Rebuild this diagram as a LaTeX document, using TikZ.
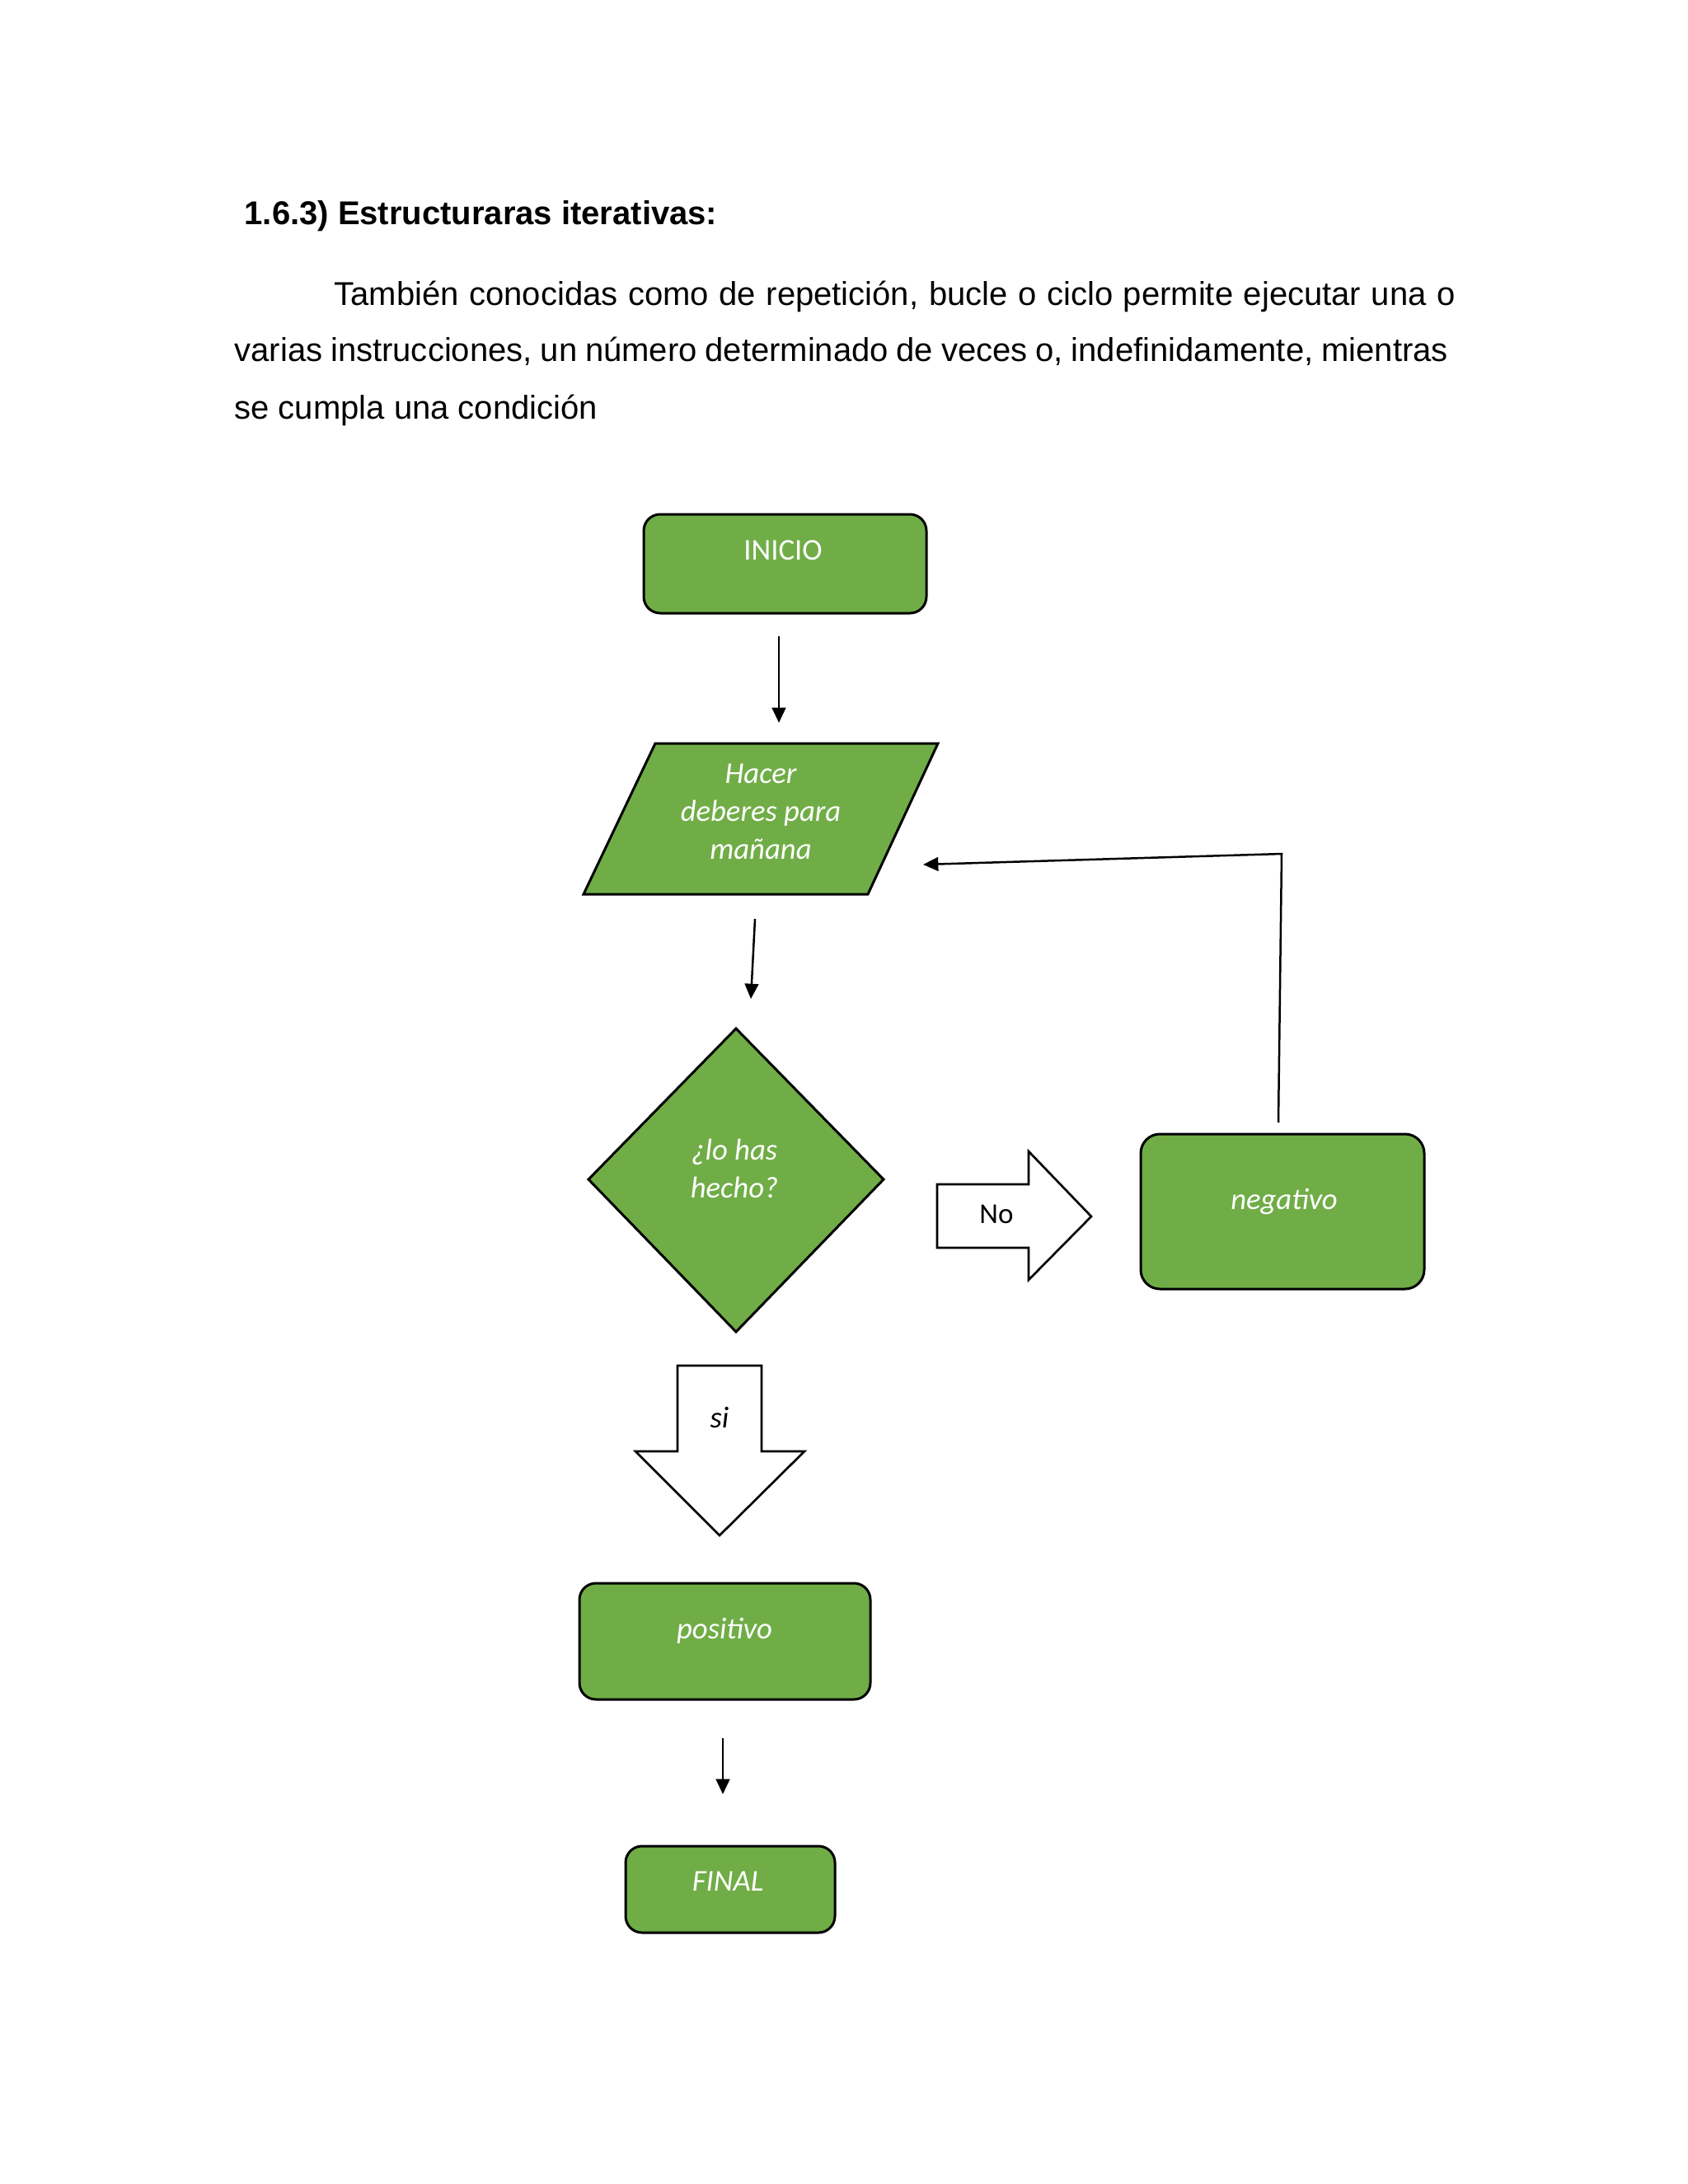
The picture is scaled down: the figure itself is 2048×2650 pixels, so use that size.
\documentclass[tikz,border=0pt]{standalone}
\usepackage{fontspec}
\setmainfont{Liberation Sans}
\newfontfamily\calibri{Carlito}
\usetikzlibrary{arrows.meta,fit}
\definecolor{fgreen}{HTML}{70AD47}
\begin{document}
\begin{tikzpicture}[x=0.010542cm,y=-0.010542cm,
  greenbox/.style={draw=black, fill=fgreen, line width=0.9pt, rounded corners=6pt, inner sep=0pt},
  greenshape/.style={draw=black, fill=fgreen, line width=0.9pt},
  gtext/.style={text=white, font=\calibri\fontsize{11}{13.8}\selectfont\itshape, align=center, inner sep=0pt},
  btext/.style={text=black, font=\calibri\fontsize{11}{13.8}\selectfont, align=center, inner sep=0pt},
  flow/.style={draw=black, line width=0.75pt, -{Triangle[length=5.5pt,width=5pt]}},
  blockarrow/.style={draw=black, fill=white, line width=0.8pt},
  bodytext/.style={font=\fontsize{12}{14}\selectfont, inner sep=0pt, anchor=base west},
]
\fill[white] (0,0) rectangle (2048,2650);
\useasboundingbox (0,0) rectangle (2048,2650);

% heading and paragraph
\node[bodytext, font=\bfseries\fontsize{12}{14}\selectfont] (title) at (296,272) {1.6.3) Estructuraras iterativas:};
\node[bodytext] (line1) at (405,370) {\makebox[408pt][s]{También conocidas como de repetición, bucle o ciclo permite ejecutar una o}};
\node[bodytext] (line2) at (284,438) {\makebox[441.7pt][s]{varias instrucciones, un número determinado de veces o, indefinidamente, mientras}};
\node[bodytext] (line3) at (284,508) {se cumpla una condición};

% INICIO
\node[greenbox, fit={(781,624)(1124,744)}] (inicio) {};
\node[gtext, font=\calibri\fontsize{11}{13.8}\selectfont] (inicioT) at (950,668) {INICIO};

% arrow 1
\coordinate (a1s) at (945,772);
\coordinate (a1e) at (945,877);
\draw[flow] (a1s) -- (a1e);

% parallelogram
\coordinate (p1) at (795,902);
\coordinate (p2) at (1138,902);
\coordinate (p3) at (1053,1085);
\coordinate (p4) at (708,1085);
\draw[greenshape] (p1) -- (p2) -- (p3) -- (p4) -- cycle;
\node[gtext] (hacer) at (923,985) {Hacer\\deberes para\\mañana};

% arrow 2
\coordinate (a2s) at (916,1115);
\coordinate (a2e) at (911,1212);
\draw[flow] (a2s) -- (a2e);

% diamond
\coordinate (d1) at (893,1248);
\coordinate (d2) at (1072,1431);
\coordinate (d3) at (893,1616);
\coordinate (d4) at (714,1431);
\draw[greenshape] (d1) -- (d2) -- (d3) -- (d4) -- cycle;
\node[gtext] (pregunta) at (891,1418) {¿lo has\\hecho?};

% No block arrow
\draw[blockarrow] (1137,1437) -- (1248,1437) -- (1248,1397) -- (1324,1476) -- (1248,1553) -- (1248,1514) -- (1137,1514) -- cycle;
\node[btext, font=\calibri\fontsize{10.5}{12}\selectfont] (no) at (1209,1473) {No};

% negativo
\node[greenbox, rounded corners=7pt, fit={(1384,1376)(1728,1564)}] (negativo) {};
\node[gtext] (negT) at (1558,1458) {negativo};

% feedback loop
\coordinate (fbB) at (1551,1362);
\coordinate (fbT) at (1555,1036);
\coordinate (fbE) at (1120,1049);
\draw[flow] (fbB) -- (fbT) -- (fbE);

% si block arrow
\draw[blockarrow] (822,1657) -- (924,1657) -- (924,1761) -- (976,1761) -- (873,1863) -- (771,1761) -- (822,1761) -- cycle;
\node[btext, font=\calibri\fontsize{11}{13.8}\selectfont\itshape] (si) at (873,1720) {si};

% positivo
\node[greenbox, fit={(703,1921)(1056,2062)}] (positivo) {};
\node[gtext] (posT) at (879,1979) {positivo};

% arrow 3
\coordinate (a3s) at (877,2109);
\coordinate (a3e) at (877,2177);
\draw[flow] (a3s) -- (a3e);

% FINAL
\node[greenbox, fit={(759,2240)(1013,2345)}] (final) {};
\node[gtext] (finT) at (883,2283) {FINAL};
\end{tikzpicture}
\end{document}
